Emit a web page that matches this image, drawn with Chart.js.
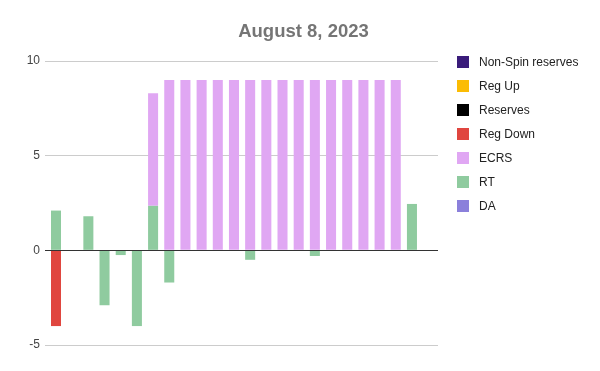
<!DOCTYPE html>
<html><head><meta charset="utf-8">
<script src="https://cdn.jsdelivr.net/npm/chart.js@4/dist/chart.umd.min.js"></script>
<style>html,body{margin:0;padding:0;background:#fff}#wrap{width:600px;height:371px;position:relative}</style>
</head><body><div id="wrap"><canvas id="c" width="600" height="371"></canvas></div>
<script>
const titleText = 'August 8, 2023';
const hours = [1,2,3,4,5,6,7,8,9,10,11,12,13,14,15,16,17,18,19,20,21,22,23,24];
const yTicks = [-5, 0, 5, 10];
const daValues      = [null,null,null,null,null,null,null,null,null,null,null,null,null,null,null,null,null,null,null,null,null,null,null,null];
const rtValues      = [2.1,null,1.8,-2.9,-0.25,-4.0,2.35,-1.7,null,null,null,null,-0.5,null,null,null,-0.3,null,null,null,null,null,2.45,null];
const ecrsValues    = [null,null,null,null,null,null,5.95,9,9,9,9,9,9,9,9,9,9,9,9,9,9,9,null,null];
const regDownValues = [-4.0,null,null,null,null,null,null,null,null,null,null,null,null,null,null,null,null,null,null,null,null,null,null,null];
const reservesValues= [null,null,null,null,null,null,null,null,null,null,null,null,null,null,null,null,null,null,null,null,null,null,null,null];
const regUpValues   = [null,null,null,null,null,null,null,null,null,null,null,null,null,null,null,null,null,null,null,null,null,null,null,null];
const nonSpinValues = [null,null,null,null,null,null,null,null,null,null,null,null,null,null,null,null,null,null,null,null,null,null,null,null];

// stack order bottom -> top
const seriesNames = ['DA','RT','ECRS','Reg Down','Reserves','Reg Up','Non-Spin reserves'];
const seriesValues = [daValues, rtValues, ecrsValues, regDownValues, reservesValues, regUpValues, nonSpinValues];
const seriesColors = ['#8b80db','#8fcb9f','#e0a7f3','#e0463f','#000000','#fbbc04','#3a1c7a'];
const legendOrder = ['Non-Spin reserves','Reg Up','Reserves','Reg Down','ECRS','RT','DA'];

const FONT = '"Liberation Sans", Arial, sans-serif';

const datasets = seriesNames.map((name, i) => ({
  label: name,
  data: hours.map((h, j) => ({x: h, y: seriesValues[i][j]})),
  backgroundColor: seriesColors[i],
  borderWidth: 0,
  barPercentage: 0.62,
  categoryPercentage: 1.0
}));

const extras = {
  id: 'extras',
  afterDatasetsDraw(chart) {
    const {ctx, chartArea, scales} = chart;
    const y0 = Math.round(scales.y.getPixelForValue(0)) + 0.5;
    ctx.save();
    ctx.strokeStyle = '#333333';
    ctx.lineWidth = 1;
    ctx.beginPath();
    ctx.moveTo(chartArea.left, y0);
    ctx.lineTo(chartArea.right, y0);
    ctx.stroke();
    ctx.restore();
  },
  afterDraw(chart) {
    const ctx = chart.ctx;
    ctx.save();
    ctx.font = 'bold 18.5px ' + FONT;
    ctx.fillStyle = '#757575';
    ctx.textAlign = 'center';
    ctx.textBaseline = 'alphabetic';
    ctx.fillText(titleText, 303.5, 36.5);
    ctx.font = '12px ' + FONT;
    ctx.textAlign = 'left';
    ctx.textBaseline = 'middle';
    legendOrder.forEach((name, k) => {
      const idx = seriesNames.indexOf(name);
      const top = 56 + 24 * k;
      ctx.fillStyle = seriesColors[idx];
      ctx.fillRect(457, top, 12, 12);
      ctx.fillStyle = '#222222';
      ctx.fillText(name, 479, top + 6.5);
    });
    ctx.restore();
  }
};

new Chart(document.getElementById('c'), {
  type: 'bar',
  data: { datasets },
  options: {
    responsive: false,
    animation: false,
    devicePixelRatio: 1,
    layout: { padding: { top: 61, bottom: 26, left: 0, right: 162 } },
    plugins: { legend: { display: false }, title: { display: false }, tooltip: { enabled: false } },
    scales: {
      x: { type: 'linear', display: false, stacked: true, min: 0.32, max: 24.61, offset: false },
      y: {
        stacked: true, min: -5, max: 10,
        afterBuildTicks(scale) { scale.ticks = yTicks.map(v => ({value: v})); },
        afterFit(scale) { scale.width = 45; },
        border: { display: false },
        grid: { color: '#cccccc', drawTicks: false, lineWidth: 1 },
        ticks: { padding: 5, color: '#444444', font: { family: FONT, size: 12 } }
      }
    }
  },
  plugins: [extras]
});
</script></body></html>
